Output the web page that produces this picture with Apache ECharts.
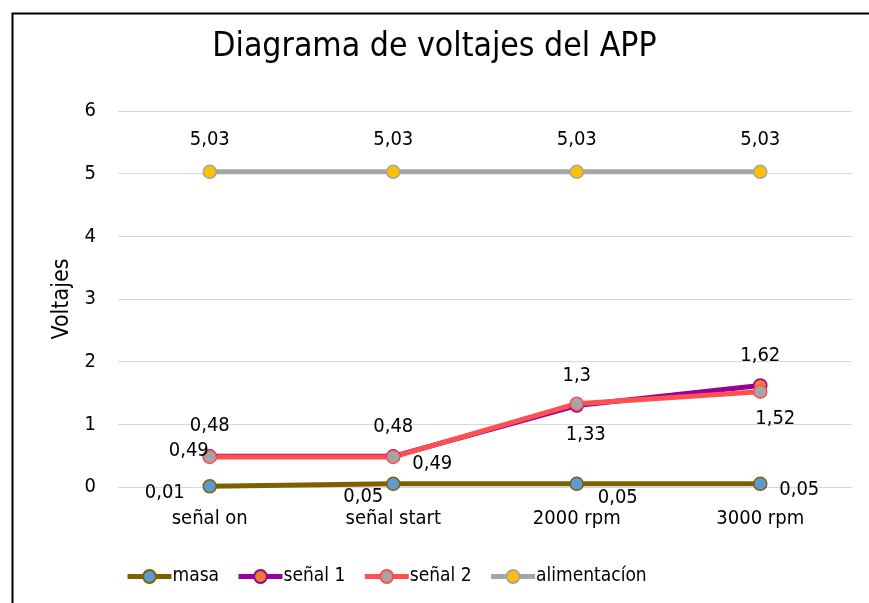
<!DOCTYPE html>
<html>
<head>
<meta charset="utf-8">
<script src="https://cdn.jsdelivr.net/npm/echarts@6/dist/echarts.min.js"></script>
<style>
html,body{margin:0;padding:0;background:#fff;}
#c{width:869px;height:603px;}
</style>
</head>
<body>
<div id="c"></div>
<script>
const categories = ['señal on', 'señal start', '2000 rpm', '3000 rpm'];
const masa = [0.01, 0.05, 0.05, 0.05];
const senal1 = [0.49, 0.49, 1.3, 1.62];
const senal2 = [0.48, 0.48, 1.33, 1.52];
const alimentacion = [5.03, 5.03, 5.03, 5.03];
const yTicks = [0, 1, 2, 3, 4, 5, 6];

const FONT = "'Liberation Sans Narrow', 'DejaVu Sans Condensed', sans-serif";
const fmt = p => String(p.value).replace('.', ',');

function withOffsets(vals, offs) {
  return vals.map((v, i) => ({ value: v, label: { offset: offs[i] } }));
}

function mk(name, vals, offs, lineColor, fillColor) {
  return {
    name: name,
    type: 'line',
    data: withOffsets(vals, offs),
    symbol: 'circle',
    symbolSize: 13,
    lineStyle: { color: lineColor, width: 5 },
    itemStyle: { color: fillColor, borderColor: lineColor, borderWidth: 1.5 },
    label: {
      show: true, position: 'inside', formatter: fmt,
      color: '#000', fontSize: 20, fontFamily: FONT
    },
    emphasis: { disabled: true },
    animation: false
  };
}

const chart = echarts.init(document.getElementById('c'), null, { renderer: 'canvas' });
chart.setOption({
  backgroundColor: '#fff',
  animation: false,
  title: {
    text: 'Diagrama de voltajes del APP',
    left: 'center', top: 25,
    textStyle: { fontFamily: FONT, fontSize: 33.5, fontWeight: 'normal', color: '#000' }
  },
  graphic: [{
    type: 'rect', left: 10, top: 11, z: 100,
    shape: { width: 900, height: 700 },
    style: { fill: 'none', stroke: '#000', lineWidth: 2 }
  }],
  grid: { left: 118, right: 17, top: 111, bottom: 116, containLabel: false },
  legend: {
    left: 120, top: 562,
    itemWidth: 44, itemHeight: 16, itemGap: 17,
    lineStyle: { width: 5 },
    textStyle: { fontFamily: FONT, fontSize: 19, color: '#000', padding: [0, 0, 0, -4] },
    data: ['masa', 'señal 1', 'señal 2', 'alimentacíon']
  },
  xAxis: {
    type: 'category', data: categories, boundaryGap: true,
    axisLine: { show: true, lineStyle: { color: '#d9d9d9', width: 1 } },
    axisTick: { show: false },
    axisLabel: { color: '#000', fontSize: 20, fontFamily: FONT, margin: 22 }
  },
  yAxis: {
    type: 'value', min: yTicks[0], max: yTicks[yTicks.length - 1], interval: 1,
    name: 'Voltajes', nameLocation: 'middle', nameGap: 42, nameRotate: 90,
    nameTextStyle: { color: '#000', fontSize: 23, fontFamily: FONT },
    axisLine: { show: false }, axisTick: { show: false },
    axisLabel: { color: '#000', fontSize: 20, fontFamily: FONT, margin: 22 },
    splitLine: { lineStyle: { color: '#d9d9d9', width: 1 } }
  },
  series: [
    mk('masa', masa, [[-45, 6], [-30, 13], [41, 14], [39, 6]], '#7F6000', '#5B9BD5'),
    mk('señal 1', senal1, [[-21, -5], [39, 8], [0, -30], [0, -30]], '#990099', '#ED7D31'),
    mk('señal 2', senal2, [[0, -31], [0, -30], [9, 31], [15, 27]], '#FF5050', '#A5A5A5'),
    mk('alimentacíon', alimentacion, [[0, -32], [0, -32], [0, -32], [0, -32]], '#A5A5A5', '#FFC000')
  ]
});
</script>
</body>
</html>
